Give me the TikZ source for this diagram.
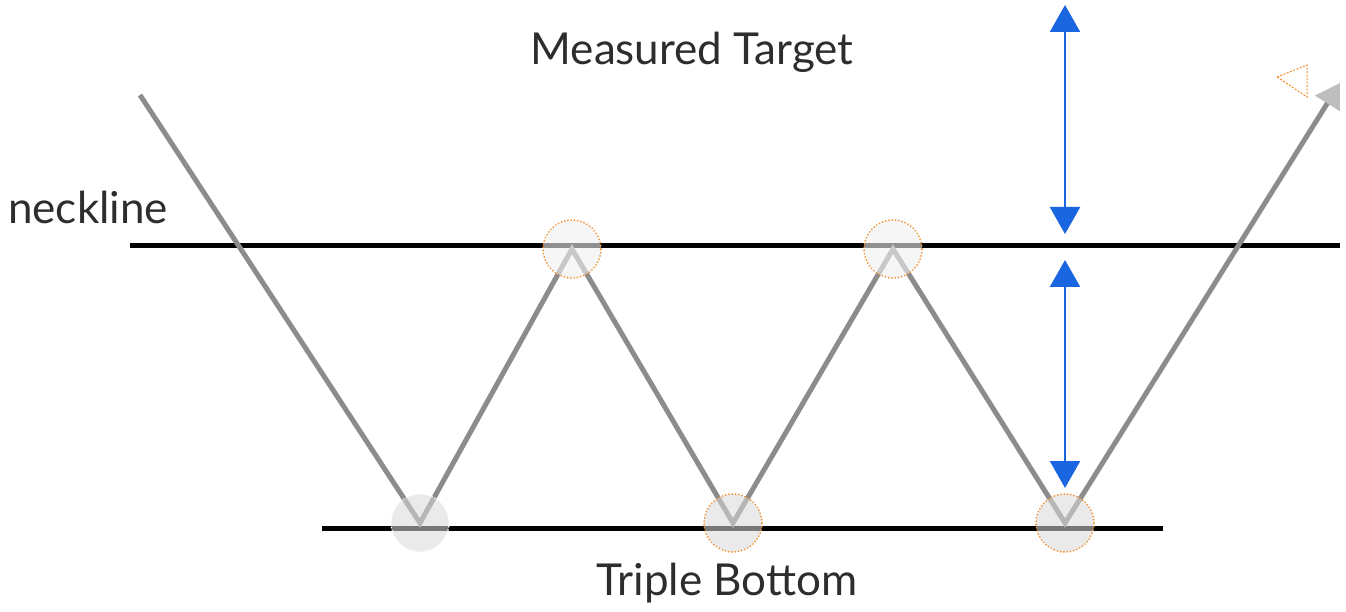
\documentclass[tikz,border=0pt]{standalone}
\usepackage{fontspec}
\setmainfont{Lato}
\usetikzlibrary{arrows.meta}
\definecolor{linegray}{RGB}{140,140,140}
\definecolor{tipgray}{RGB}{190,190,190}
\definecolor{markorange}{RGB}{245,140,40}
\definecolor{targetblue}{RGB}{26,102,224}
\definecolor{labelgray}{RGB}{45,45,45}

\begin{document}
\begin{tikzpicture}[
  x=1pt, y=-1pt,
  level/.style={line width=5pt, black},
  price/.style={line width=5pt, linegray, line join=miter,
                -{Triangle[width=28pt, length=24pt, color=tipgray]}},
  pivot/.style={circle, minimum size=58pt, inner sep=0pt,
                fill=gray!30, fill opacity=0.55,
                draw=markorange, draw opacity=1, line width=1.8pt,
                dash pattern=on 0.1pt off 3.2pt, line cap=round},
  peak/.style={pivot, fill=gray!12, fill opacity=0.6},
  measure/.style={targetblue, line width=2.5pt,
                  {Triangle[width=30pt, length=27pt]}-{Triangle[width=30pt, length=27pt]}},
  lbl/.style={font=\fontsize{44}{50}\selectfont, text=labelgray, inner sep=0pt}
]
\useasboundingbox (0,0) rectangle (1346,612);

% levels
\coordinate (neckL) at (130,246);
\coordinate (neckR) at (1340,246);
\coordinate (baseL) at (322,528);
\coordinate (baseR) at (1163,528);
\draw[level] (neckL) -- (neckR);
\draw[level] (baseL) -- (baseR);

% price path
\coordinate (p0) at (140,95);
\coordinate (p1) at (420,523);
\coordinate (p2) at (572,249);
\coordinate (p3) at (733,523);
\coordinate (p4) at (893,249);
\coordinate (p5) at (1065,523);
\coordinate (p6) at (1340,83);
\draw[price] (p0) -- (p1) -- (p2) -- (p3) -- (p4) -- (p5) -- (p6);

% pivots
\node[pivot, draw=white] (low1) at (p1) {};
\node[peak] (high1) at (p2) {};
\node[pivot] (low2) at (p3) {};
\node[peak] (high2) at (p4) {};
\node[pivot] (low3) at (p5) {};

% target measure
\coordinate (tgtTop) at (1065,5);
\coordinate (tgtBot) at (1065,234);
\coordinate (patTop) at (1065,260);
\coordinate (patBot) at (1065,488);
\draw[measure] (tgtTop) -- (tgtBot);
\draw[measure] (patTop) -- (patBot);

% projected target marker
\draw[markorange, line width=1pt, dash pattern=on 2pt off 1.5pt]
  (1277,77) -- (1307,65) -- (1307,97) -- cycle;

% labels
\node[lbl] (target) at (692,52) {Measured Target};
\node[lbl, anchor=west] (neck) at (8,207) {neckline};
\node[lbl] (triple) at (727,583) {Triple Bottom};
\end{tikzpicture}
\end{document}
